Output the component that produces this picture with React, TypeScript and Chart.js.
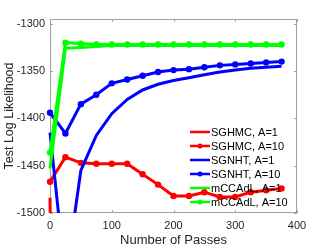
import React, { useEffect, useRef } from "react";
import { Chart, registerables } from "chart.js";

Chart.register(...registerables);

const passes = [0, 25, 50, 75, 100, 125, 150, 175, 200, 225, 250, 275, 300, 325, 350, 375];
const sghmcA1 = [-1484, -3000, -2900, -2800, -2700, -2650, -2600, -2550, -2500, -2450, -2400, -2380, -2360, -2340, -2320, -2300];
const sghmcA10 = [-1467, -1441, -1447, -1448, -1448, -1448, -1459, -1470, -1482, -1482, -1478, -1483, -1483, -1478, -1476, -1474];
const sgnhtA1 = [-1415, -1570, -1455, -1418, -1395, -1380, -1370, -1364, -1360, -1357, -1354, -1351, -1349, -1347, -1346, -1345];
const sgnhtA10 = [-1394, -1416, -1385, -1375, -1363, -1359, -1355, -1351, -1349, -1348, -1346, -1344, -1343, -1342, -1341, -1340];
const mccadlA1 = [-1453, -1326, -1325, -1324, -1323, -1323, -1323, -1323, -1323, -1323, -1323, -1323, -1323, -1323, -1323, -1323];
const mccadlA10 = [-1436, -1320, -1321, -1322, -1322, -1322, -1322, -1322, -1322, -1322, -1322, -1322, -1322, -1322, -1322, -1322];

const seriesNames = ["SGHMC, A=1", "SGHMC, A=10", "SGNHT, A=1", "SGNHT, A=10", "mCCAdL, A=1", "mCCAdL, A=10"];
const seriesColors = ["#ff0000", "#ff0000", "#0000ff", "#0000ff", "#00ff00", "#00ff00"];
const seriesMarkers = [false, true, false, true, false, true];
const seriesValues = [sghmcA1, sghmcA10, sgnhtA1, sgnhtA10, mccadlA1, mccadlA10];

const xTicks = [0, 100, 200, 300, 400];
const yTicks = [-1500, -1450, -1400, -1350, -1300];

const FONT = "'Liberation Sans', Arial, sans-serif";
const AXIS_COLOR = "#a0a0a0";

const boxPlugin = {
  id: "matlabBox",
  beforeDatasetsDraw(chart: any) {
    const { ctx, chartArea: a, scales } = chart;
    ctx.save();
    ctx.strokeStyle = AXIS_COLOR;
    ctx.lineWidth = 1;
    ctx.strokeRect(a.left + 0.5, a.top + 0.5, a.right - a.left - 1, a.bottom - a.top - 1);
    const t = 3;
    ctx.beginPath();
    xTicks.forEach((v) => {
      const x = Math.round(scales.x.getPixelForValue(v)) + 0.5;
      ctx.moveTo(x, a.bottom);
      ctx.lineTo(x, a.bottom - t);
      ctx.moveTo(x, a.top);
      ctx.lineTo(x, a.top + t);
    });
    yTicks.forEach((v) => {
      const y = Math.round(scales.y.getPixelForValue(v)) + 0.5;
      ctx.moveTo(a.left, y);
      ctx.lineTo(a.left + t, y);
      ctx.moveTo(a.right, y);
      ctx.lineTo(a.right - t, y);
    });
    ctx.stroke();
    ctx.restore();
  },
};

const legendPlugin = {
  id: "insideLegend",
  afterDraw(chart: any) {
    const { ctx } = chart;
    ctx.save();
    ctx.font = `11px ${FONT}`;
    ctx.textBaseline = "middle";
    ctx.textAlign = "left";
    const x0 = 190;
    const x1 = 210;
    const y0 = 132;
    const dy = 14;
    chart.data.datasets.forEach((ds: any, i: number) => {
      const y = y0 + i * dy;
      ctx.strokeStyle = ds.borderColor;
      ctx.lineWidth = 2.5;
      ctx.beginPath();
      ctx.moveTo(x0, y);
      ctx.lineTo(x1, y);
      ctx.stroke();
      if (ds.pointRadius > 0) {
        ctx.fillStyle = ds.borderColor;
        ctx.beginPath();
        ctx.arc((x0 + x1) / 2, y, 2.5, 0, Math.PI * 2);
        ctx.fill();
      }
      ctx.fillStyle = "#000000";
      ctx.fillText(ds.label, x1 + 1, y + 0.5);
    });
    ctx.restore();
  },
};

export default function App() {
  const ref = useRef<HTMLCanvasElement>(null);
  useEffect(() => {
    document.body.style.margin = "0";
    const datasets = seriesValues.map((vals, i) => ({
      label: seriesNames[i],
      data: passes.map((p, j) => ({ x: p, y: vals[j] })),
      borderColor: seriesColors[i],
      backgroundColor: seriesColors[i],
      borderWidth: 3,
      pointRadius: seriesMarkers[i] ? 3.2 : 0,
      pointBorderWidth: 0,
      pointHoverRadius: 0,
      tension: 0,
      order: 6 - i,
      clip: { left: 6, right: 6, top: 0, bottom: 0 },
    }));
    const chart = new Chart(ref.current!, {
      type: "line",
      data: { datasets },
      plugins: [boxPlugin, legendPlugin],
      options: {
        animation: false,
        responsive: false,
        devicePixelRatio: 1,
        layout: { padding: { left: 2, right: 32, top: 19, bottom: 0 } },
        plugins: { legend: { display: false }, tooltip: { enabled: false } },
        scales: {
          x: {
            type: "linear",
            min: 0,
            max: 400,
            afterBuildTicks: (s: any) => {
              s.ticks = xTicks.map((v) => ({ value: v }));
            },
            afterFit: (s: any) => {
              s.height = 34;
            },
            grid: { display: false, drawTicks: false },
            border: { display: false },
            ticks: {
              color: "#262626",
              font: { family: FONT, size: 11 },
              padding: 6,
              maxRotation: 0,
              callback: (v: any) => String(v),
            },
            title: {
              display: true,
              text: "Number of Passes",
              color: "#262626",
              font: { family: FONT, size: 13 },
              padding: { top: 0, bottom: -1 },
            },
          },
          y: {
            type: "linear",
            min: -1500,
            max: -1295,
            afterBuildTicks: (s: any) => {
              s.ticks = yTicks.map((v) => ({ value: v }));
            },
            afterFit: (s: any) => {
              s.width = 48;
            },
            grid: { display: false, drawTicks: false },
            border: { display: false },
            ticks: {
              color: "#262626",
              font: { family: FONT, size: 11 },
              padding: 5,
              callback: (v: any) => String(v),
            },
            title: {
              display: true,
              text: "Test Log Likelihood",
              color: "#262626",
              font: { family: FONT, size: 12.5 },
              padding: 0,
            },
          },
        },
      },
    });
    return () => chart.destroy();
  }, []);
  return (
    <div style={{ position: "absolute", left: 0, top: 0, width: 329, height: 247 }}>
      <canvas ref={ref} width={329} height={247} style={{ width: 329, height: 247, display: "block" }} />
    </div>
  );
}
